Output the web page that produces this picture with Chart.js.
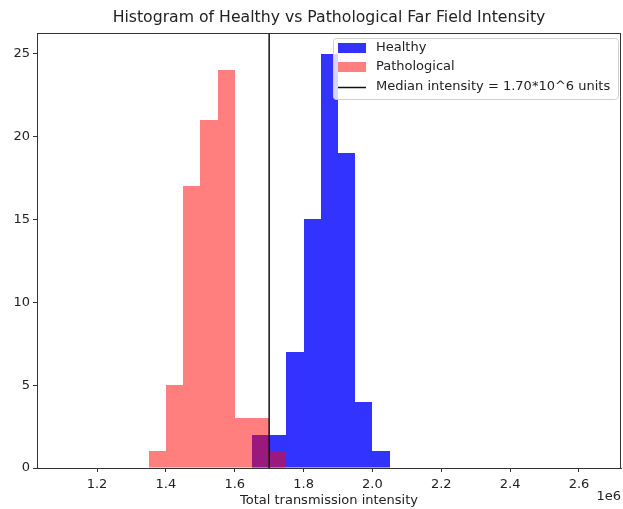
<!DOCTYPE html>
<html>
<head>
<meta charset="utf-8">
<script src="https://cdn.jsdelivr.net/npm/chart.js@4.4.1/dist/chart.umd.min.js"></script>
<style>
  html, body { margin: 0; padding: 0; background: #fff; }
  #wrap { width: 623px; height: 509px; }
</style>
</head>
<body>
<div id="wrap"><canvas id="histChart" width="623" height="509"></canvas></div>
<script>
// histogram bins (left edges, in units of 1e6) and counts
const binWidth = 0.05;
const healthyBins = [1.65, 1.70, 1.75, 1.80, 1.85, 1.90, 1.95, 2.00];
const healthyCounts = [2, 2, 7, 15, 25, 19, 4, 1];
const pathBins = [1.35, 1.40, 1.45, 1.50, 1.55, 1.60, 1.65, 1.70];
const pathCounts = [1, 5, 17, 21, 24, 3, 3, 1];
const medianValue = 1.70;
const xTicks = [1.2, 1.4, 1.6, 1.8, 2.0, 2.2, 2.4, 2.6];
const yTicks = [0, 5, 10, 15, 20, 25];
const xMin = 1.0257, xMax = 2.722, yMax = 26.25;

const FONT = 'DejaVu Sans';
const INK = '#222';

function toPoints(bins, counts) {
  return bins.map((b, i) => ({ x: b + binWidth / 2, y: counts[i] }));
}

// snap bar edges to whole pixels so neighbouring bins don't leave seams
const snapBars = {
  id: 'snapBars',
  afterDatasetsUpdate(chart) {
    chart.getSortedVisibleDatasetMetas().forEach(meta => {
      if (meta.type !== 'bar') return;
      meta.data.forEach(el => {
        const l = Math.round(el.x - el.width / 2);
        const r = Math.round(el.x + el.width / 2);
        el.x = (l + r) / 2;
        el.width = r - l;
        el.y = Math.round(el.y);
      });
    });
  }
};

// frame, title, axis label, offset text and legend
const decorPlugin = {
  id: 'decor',
  afterDraw(chart) {
    const { ctx, chartArea: a } = chart;
    ctx.save();
    ctx.strokeStyle = '#333';
    ctx.lineWidth = 1;
    ctx.strokeRect(a.left + 0.5, a.top + 0.5, a.right - a.left - 1, a.bottom - a.top);

    const cx = (a.left + a.right) / 2;
    ctx.fillStyle = INK;
    ctx.textAlign = 'center';
    ctx.textBaseline = 'middle';
    ctx.font = '15.7px "' + FONT + '"';
    ctx.fillText('Histogram of Healthy vs Pathological Far Field Intensity', cx, 18);
    ctx.font = '13px "' + FONT + '"';
    ctx.fillText('Total transmission intensity', cx, 501);
    ctx.textAlign = 'right';
    ctx.fillText('1e6', a.right, 497);

    // legend
    const lx = 333, ly = 38, lw = 285, lh = 61;
    ctx.beginPath();
    ctx.roundRect(lx + 0.5, ly + 0.5, lw, lh, 3);
    ctx.fillStyle = 'rgba(255,255,255,0.8)';
    ctx.fill();
    ctx.strokeStyle = '#d0d0d0';
    ctx.stroke();

    const ds = chart.data.datasets;
    const rows = [48, 67, 87];
    ctx.textAlign = 'left';
    ctx.font = '13px "' + FONT + '"';
    ds.forEach((d, i) => {
      const y = rows[i];
      if (d.type === 'line') {
        ctx.strokeStyle = d.borderColor;
        ctx.lineWidth = 1.5;
        ctx.beginPath();
        ctx.moveTo(338, y + 0.5);
        ctx.lineTo(366, y + 0.5);
        ctx.stroke();
      } else {
        ctx.fillStyle = d.backgroundColor;
        ctx.fillRect(338, y - 5, 28, 10);
      }
      ctx.fillStyle = INK;
      ctx.fillText(d.label, 376, y);
    });
    ctx.restore();
  }
};

new Chart(document.getElementById('histChart'), {
  type: 'bar',
  data: {
    datasets: [
      {
        label: 'Healthy',
        data: toPoints(healthyBins, healthyCounts),
        backgroundColor: 'rgba(0,0,255,0.8)',
        borderWidth: 0,
        inflateAmount: 0,
        barPercentage: 1,
        categoryPercentage: 1,
        grouped: false,
        order: 2
      },
      {
        label: 'Pathological',
        data: toPoints(pathBins, pathCounts),
        backgroundColor: 'rgba(255,0,0,0.5)',
        borderWidth: 0,
        inflateAmount: 0,
        barPercentage: 1,
        categoryPercentage: 1,
        grouped: false,
        order: 1
      },
      {
        type: 'line',
        label: 'Median intensity = 1.70*10^6 units',
        data: [{ x: medianValue, y: 0 }, { x: medianValue, y: yMax }],
        borderColor: '#111',
        borderWidth: 1.5,
        pointRadius: 0,
        fill: false,
        order: 0
      }
    ]
  },
  options: {
    responsive: false,
    devicePixelRatio: 1,
    animation: false,
    layout: { padding: { left: 0, right: 2, top: 33, bottom: 0 } },
    plugins: {
      legend: { display: false },
      title: { display: false },
      tooltip: { enabled: false }
    },
    scales: {
      x: {
        type: 'linear',
        min: xMin,
        max: xMax,
        offset: false,
        afterFit: s => { s.height = 41; },
        afterBuildTicks: s => { s.ticks = xTicks.map(v => ({ value: v })); },
        grid: { offset: false, drawOnChartArea: false, tickLength: 4, color: '#333', tickWidth: 1 },
        border: { display: true, color: '#333', width: 1 },
        ticks: {
          padding: 5,
          color: INK,
          font: { family: FONT, size: 13 },
          maxRotation: 0,
          callback: v => v.toFixed(1)
        }
      },
      y: {
        min: 0,
        max: yMax,
        afterFit: s => { s.width = 37; },
        afterBuildTicks: s => { s.ticks = yTicks.map(v => ({ value: v })); },
        grid: { drawOnChartArea: false, tickLength: 4, color: '#333', tickWidth: 1 },
        border: { display: true, color: '#333', width: 1 },
        ticks: {
          padding: 3,
          color: INK,
          font: { family: FONT, size: 13 },
          callback: v => String(v)
        }
      }
    }
  },
  plugins: [snapBars, decorPlugin]
});
</script>
</body>
</html>
